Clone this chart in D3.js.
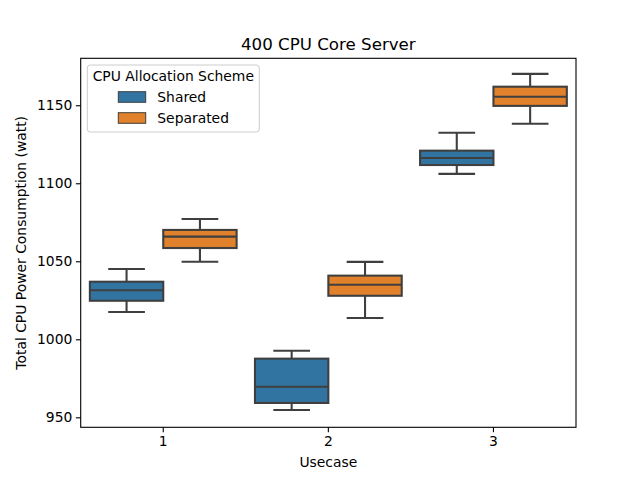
<!DOCTYPE html>
<html>
<head>
<meta charset="utf-8">
<script src="https://cdn.jsdelivr.net/npm/d3@7"></script>
<style>
  html, body { margin: 0; padding: 0; background: #fff; }
  svg { display: block; font-family: "DejaVu Sans", sans-serif; }
</style>
</head>
<body>
<svg id="chart" width="640" height="480"></svg>
<script>
// Data
const categories = ["1", "2", "3"];
const schemes = ["Shared", "Separated"];
// [whiskerLow, q1, median, q3, whiskerHigh] per category
const sharedStats = [
  [1017.5, 1024.7, 1031.4, 1036.9, 1045.1],
  [954.7, 959.2, 969.6, 987.6, 992.7],
  [1106.0, 1111.7, 1116.2, 1120.9, 1132.4]
];
const separatedStats = [
  [1049.7, 1058.5, 1065.8, 1070.1, 1077.1],
  [1013.7, 1027.9, 1035.0, 1040.8, 1049.6],
  [1138.2, 1149.6, 1155.5, 1161.9, 1170.1]
];
const yTicks = [950, 1000, 1050, 1100, 1150];
const colors = ["#3274a1", "#e1812c"];

const svg = d3.select("#chart");
const L = 80.7, R = 576, T = 58.3, B = 427.3;
const fs = 13.89;

const x = d3.scaleBand().domain(categories).range([L, R]).paddingInner(0).paddingOuter(0);
const xSub = d3.scaleBand().domain(schemes).range([0, x.bandwidth()]).paddingInner(0).paddingOuter(0.125);
const y = d3.scaleLinear().domain([943.6, 1180.1]).range([B, T]);

const edge = "#3f3f3f";
const lw = 2.08;

const allStats = [sharedStats, separatedStats];
const boxes = [];
schemes.forEach((s, si) => {
  categories.forEach((c, ci) => {
    boxes.push({ cat: c, scheme: s, si, st: allStats[si][ci] });
  });
});

const g = svg.append("g");
boxes.forEach(b => {
  const x0 = x(b.cat) + xSub(b.scheme);
  const w = xSub.bandwidth();
  const xc = x0 + w / 2;
  const [lo, q1, med, q3, hi] = b.st;
  const grp = g.append("g");
  // whiskers
  grp.append("line").attr("x1", xc).attr("x2", xc).attr("y1", y(q3)).attr("y2", y(hi))
    .attr("stroke", edge).attr("stroke-width", lw);
  grp.append("line").attr("x1", xc).attr("x2", xc).attr("y1", y(q1)).attr("y2", y(lo))
    .attr("stroke", edge).attr("stroke-width", lw);
  // caps
  [lo, hi].forEach(v => {
    grp.append("line").attr("x1", xc - w / 4).attr("x2", xc + w / 4).attr("y1", y(v)).attr("y2", y(v))
      .attr("stroke", edge).attr("stroke-width", lw);
  });
  // box
  grp.append("rect").attr("x", x0).attr("y", y(q3)).attr("width", w).attr("height", y(q1) - y(q3))
    .attr("fill", colors[b.si]).attr("stroke", edge).attr("stroke-width", lw);
  // median
  grp.append("line").attr("x1", x0).attr("x2", x0 + w).attr("y1", y(med)).attr("y2", y(med))
    .attr("stroke", edge).attr("stroke-width", lw);
});

// Axes
const xAxis = d3.axisBottom(x).tickSize(4.86).tickPadding(3.5);
const yAxis = d3.axisLeft(y).tickValues(yTicks).tickFormat(d3.format("d")).tickSize(4.86).tickPadding(3.5);

const gx = svg.append("g").attr("transform", `translate(0,${B})`).call(xAxis);
gx.select(".domain").remove();
gx.selectAll("line").attr("stroke", "#000").attr("stroke-width", 1.1);
gx.selectAll("text").attr("font-size", fs).attr("font-family", "DejaVu Sans").attr("fill", "#000");

const gy = svg.append("g").attr("transform", `translate(${L},0)`).call(yAxis);
gy.select(".domain").remove();
gy.selectAll("line").attr("stroke", "#000").attr("stroke-width", 1.1);
gy.selectAll("text").attr("font-size", fs).attr("font-family", "DejaVu Sans").attr("fill", "#000");

// Frame
svg.append("rect").attr("x", L).attr("y", T).attr("width", R - L).attr("height", B - T)
  .attr("fill", "none").attr("stroke", "#000").attr("stroke-width", 1.1);

// Title and labels
svg.append("text").attr("x", (L + R) / 2).attr("y", 49.5).attr("text-anchor", "middle")
  .attr("font-size", 16.67).attr("fill", "#000").text("400 CPU Core Server");
svg.append("text").attr("x", (L + R) / 2).attr("y", 466.5).attr("text-anchor", "middle")
  .attr("font-size", fs).attr("fill", "#000").text("Usecase");
svg.append("text").attr("transform", `translate(25.5,${(T + B) / 2}) rotate(-90)`).attr("text-anchor", "middle")
  .attr("font-size", fs).attr("fill", "#000").text("Total CPU Power Consumption (watt)");

// Legend
const lg = svg.append("g");
lg.append("rect").attr("x", 87.3).attr("y", 65).attr("width", 172).attr("height", 67).attr("rx", 3)
  .attr("fill", "#fff").attr("fill-opacity", 0.8).attr("stroke", "#cccccc").attr("stroke-width", 1);
lg.append("text").attr("x", 173.3).attr("y", 81).attr("text-anchor", "middle")
  .attr("font-size", fs).attr("fill", "#000").text("CPU Allocation Scheme");
schemes.forEach((s, i) => {
  const yy = 91.7 + i * 21;
  lg.append("rect").attr("x", 118.3).attr("y", yy).attr("width", 27.4).attr("height", 10.6)
    .attr("fill", colors[i]).attr("stroke", edge).attr("stroke-width", 1);
  lg.append("text").attr("x", 157.3).attr("y", yy + 10.3)
    .attr("font-size", fs).attr("fill", "#000").text(s);
});
</script>
</body>
</html>
